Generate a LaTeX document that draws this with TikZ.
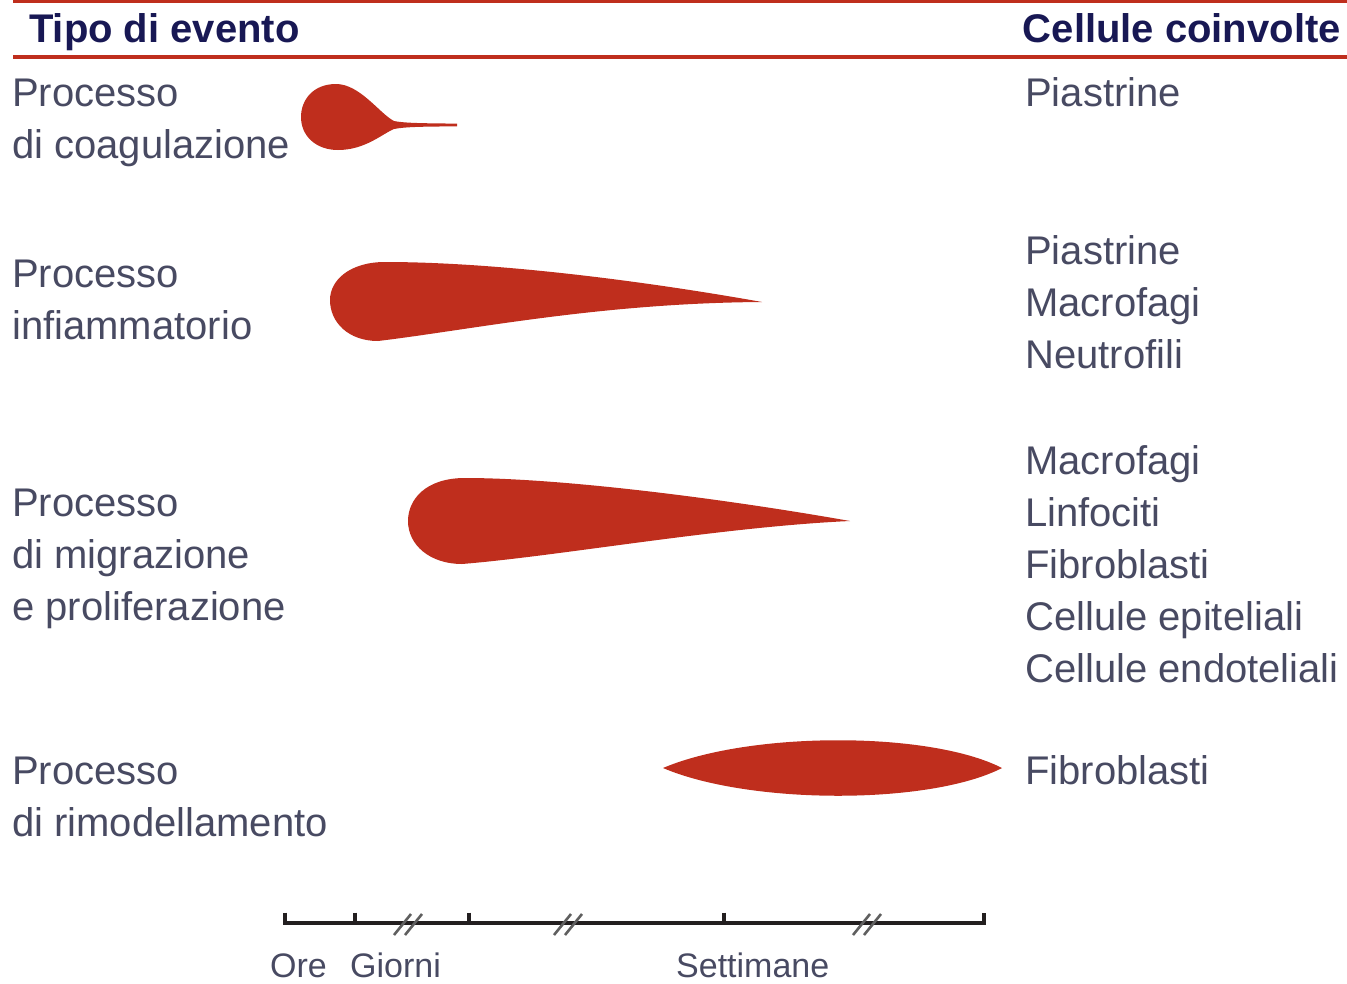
\documentclass[tikz,border=0pt]{standalone}
\usepackage{fontspec}
\setmainfont{Liberation Sans}

\definecolor{wound}{RGB}{191,46,29}
\definecolor{headc}{RGB}{24,24,84}
\definecolor{textc}{RGB}{72,74,98}
\definecolor{axisc}{RGB}{35,31,32}
\definecolor{breakc}{RGB}{95,95,95}

\tikzset{
  head/.style={anchor=base west, inner sep=0pt, text=headc, font=\fontsize{40}{48}\selectfont\bfseries},
  item/.style={anchor=base west, inner sep=0pt, text=textc, font=\fontsize{40}{48}\selectfont},
  unit/.style={anchor=base west, inner sep=0pt, text=textc, font=\fontsize{34}{40}\selectfont},
  phase/.style={fill=wound, draw=none},
  rule/.style={draw=wound, line width=3.2pt},
  tick/.style={draw=axisc, line width=3.2pt},
  cut/.style={draw=breakc, line width=2.6pt},
}

\begin{document}
\begin{tikzpicture}[x=1pt,y=-1pt]
  \useasboundingbox (0,0) rectangle (1347,983);

  % header
  \draw[rule] (13,1.6) -- (1347,1.6);
  \draw[rule] (13,57) -- (1347,57);
  \node[head] (typeHead) at (29,42) {Tipo di evento};
  \node[head, anchor=base east] (cellHead) at (1341,42) {Cellule coinvolte};

  % event types
  \node[item] (coagA) at (12,106) {Processo};
  \node[item] (coagB) at (12,158) {di coagulazione};
  \node[item] (inflA) at (12,287) {Processo};
  \node[item] (inflB) at (12,339) {infiammatorio};
  \node[item] (migrA) at (12,516) {Processo};
  \node[item] (migrB) at (12,568) {di migrazione};
  \node[item] (migrC) at (12,620) {e proliferazione};
  \node[item] (remoA) at (12,784) {Processo};
  \node[item] (remoB) at (12,836) {di rimodellamento};

  % cells involved
  \node[item] (coagCellA) at (1025,106) {Piastrine};
  \node[item] (inflCellA) at (1025,264) {Piastrine};
  \node[item] (inflCellB) at (1025,316) {Macrofagi};
  \node[item] (inflCellC) at (1025,368) {Neutrofili};
  \node[item] (migrCellA) at (1025,474) {Macrofagi};
  \node[item] (migrCellB) at (1025,526) {Linfociti};
  \node[item] (migrCellC) at (1025,578) {Fibroblasti};
  \node[item] (migrCellD) at (1025,630) {Cellule epiteliali};
  \node[item] (migrCellE) at (1025,682) {Cellule endoteliali};
  \node[item] (remoCellA) at (1025,784) {Fibroblasti};

  % phases
  \fill[phase] (457,123.6) .. controls (420,123.3) and (404,123) .. (394,121)
    .. controls (380,114) and (360,84) .. (336,84)
    .. controls (313,84) and (301,100) .. (301,117)
    .. controls (301,136) and (316,150) .. (338,150)
    .. controls (365,150) and (382,134) .. (394,129)
    .. controls (404,127) and (420,126.5) .. (457,126.4) -- cycle;

  \fill[phase] (762,302) .. controls (650,282) and (500,262) .. (385,262)
    .. controls (350,262) and (330,280) .. (330,300)
    .. controls (330,322) and (348,341) .. (378,341)
    .. controls (470,330) and (600,303) .. (762,302) -- cycle;

  \fill[phase] (850,521) .. controls (720,498) and (560,478) .. (465,478)
    .. controls (425,478) and (408,500) .. (408,521)
    .. controls (408,545) and (430,564) .. (462,564)
    .. controls (560,556) and (720,527) .. (850,521) -- cycle;

  \fill[phase] (663,768) .. controls (750,731) and (930,731) .. (1002,768)
    .. controls (930,805) and (750,805) .. (663,768) -- cycle;

  % time scale
  \draw[tick] (285,912.5) -- (285,923) -- (984,923) -- (984,912.5);
  \foreach \tx in {355,469,724}
    \draw[tick] (\tx,912.5) -- (\tx,923);
  \foreach \bx in {408,568,867} {
    \draw[cut] (\bx-14,935) -- (\bx+3,914);
    \draw[cut] (\bx-3,935) -- (\bx+14,914);
  }
  \node[unit] (hours) at (270,977) {Ore};
  \node[unit] (days) at (350,977) {Giorni};
  \node[unit] (weeks) at (676,977) {Settimane};
\end{tikzpicture}
\end{document}
